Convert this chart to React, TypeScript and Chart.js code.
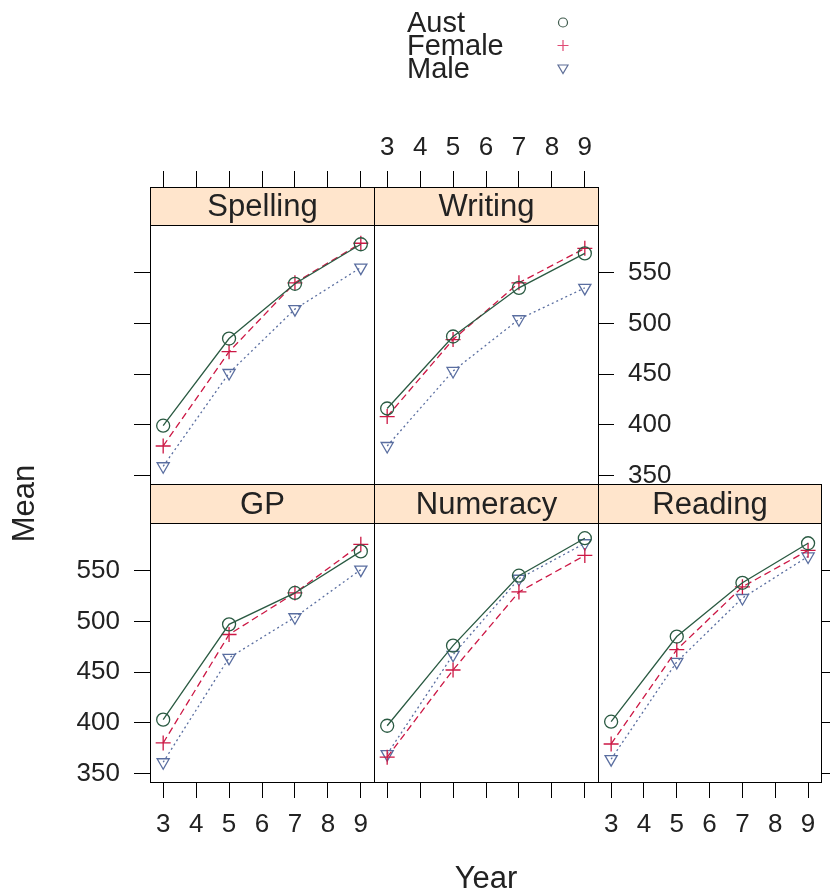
import React, { useEffect, useRef } from 'react';
import { Chart, registerables } from 'chart.js';

Chart.register(...registerables);

// ---------------- data ----------------
const YEARS = [3, 5, 7, 9];
const X_TICKS = [3, 4, 5, 6, 7, 8, 9];
const Y_TICKS = [350, 400, 450, 500, 550];
const GROUPS = ['Aust', 'Female', 'Male'];

const spellingAust = [399, 485, 539, 578];
const spellingFemale = [379, 472, 540, 579];
const spellingMale = [359, 451, 514, 555];

const writingAust = [416, 487, 535, 569];
const writingFemale = [408, 484, 540, 574];
const writingMale = [379, 453, 504, 535];

const gpAust = [403, 497, 528, 569];
const gpFemale = [380, 487, 528, 576];
const gpMale = [361, 464, 504, 551];

const numeracyAust = [397, 476, 545, 582];
const numeracyFemale = [366, 452, 529, 565];
const numeracyMale = [369, 467, 542, 577];

const readingAust = [401, 485, 538, 577];
const readingFemale = [379, 472, 534, 570];
const readingMale = [364, 460, 523, 564];

const X_MIN = 2.6;
const X_MAX = 9.4;
const Y_MIN = 341.5;
const Y_MAX = 597;

// ---------------- layout / style ----------------
const W = 830;
const H = 894;
const FONT = "'Liberation Sans', Arial, Helvetica, sans-serif";
const TEXT = '#222';
const TICK = 16;
const TICK_FONT = 26;
const STRIP_FONT = 31;
const COLS = [150, 374, 598, 822];
const ROWS = [
  { stripTop: 187, top: 225, bottom: 484 },
  { stripTop: 484, top: 523, bottom: 782 },
];

const STYLES = [
  { color: '#2a5a42', legend: '#3e5a4c', pointStyle: 'circle', rotation: 0, dash: [], radius: 6.5, width: 1.3 },
  { color: '#cc1744', legend: '#e04a74', pointStyle: 'cross', rotation: 0, dash: [7, 4], radius: 7.5, width: 1.3 },
  { color: '#5a6ea0', legend: '#5f6f98', pointStyle: 'triangle', rotation: 180, dash: [2, 3], radius: 7, width: 1.3 },
];

const PANELS = [
  { name: 'Spelling', col: 0, row: 0, series: [spellingAust, spellingFemale, spellingMale], xPos: 'top', xLabels: false, yPos: 'left', yLabels: false, decor: false },
  { name: 'Writing', col: 1, row: 0, series: [writingAust, writingFemale, writingMale], xPos: 'top', xLabels: true, yPos: 'right', yLabels: true, decor: false },
  { name: 'GP', col: 0, row: 1, series: [gpAust, gpFemale, gpMale], xPos: 'bottom', xLabels: true, yPos: 'left', yLabels: true, decor: true },
  { name: 'Numeracy', col: 1, row: 1, series: [numeracyAust, numeracyFemale, numeracyMale], xPos: 'bottom', xLabels: false, yPos: null, yLabels: false, decor: false },
  { name: 'Reading', col: 2, row: 1, series: [readingAust, readingFemale, readingMale], xPos: 'bottom', xLabels: true, yPos: 'right', yLabels: false, decor: false },
];

const framePlugin = {
  id: 'latticeFrame',
  afterLayout(chart: any, _args: any, opts: any) {
    const s = chart.scales.x;
    if (s && s.options.position === 'top') {
      s.bottom = chart.chartArea.top - opts.stripH;
    }
  },
  afterDraw(chart: any, _args: any, opts: any) {
    const ctx = chart.ctx;
    const a = chart.chartArea;
    const L = Math.round(a.left) + 0.5;
    const R = Math.round(a.right) + 0.5;
    const T = Math.round(a.top) + 0.5;
    const B = Math.round(a.bottom) + 0.5;
    const ST = Math.round(a.top - opts.stripH) + 0.5;
    ctx.save();
    ctx.fillStyle = '#ffe5cc';
    ctx.fillRect(L, ST, R - L, T - ST);
    ctx.strokeStyle = '#000';
    ctx.lineWidth = 1;
    ctx.setLineDash([]);
    ctx.strokeRect(L, ST, R - L, T - ST);
    ctx.strokeRect(L, T, R - L, B - T);
    ctx.fillStyle = TEXT;
    ctx.font = `${STRIP_FONT}px ${FONT}`;
    ctx.textAlign = 'center';
    ctx.textBaseline = 'middle';
    ctx.fillText(opts.name, (L + R) / 2, (ST + T) / 2 + 1);

    if (opts.decor) {
      // legend
      const rows = [22.5, 45.5, 68.5];
      ctx.font = `29px ${FONT}`;
      ctx.textAlign = 'left';
      GROUPS.forEach((g, i) => {
        ctx.fillStyle = TEXT;
        ctx.fillText(g, 407, rows[i] + 1);
        const sx = 563;
        const sy = rows[i];
        ctx.strokeStyle = STYLES[i].legend;
        ctx.lineWidth = 1.2;
        ctx.beginPath();
        if (i === 0) {
          ctx.arc(sx, sy, 4.5, 0, Math.PI * 2);
        } else if (i === 1) {
          ctx.moveTo(sx - 5.5, sy); ctx.lineTo(sx + 5.5, sy);
          ctx.moveTo(sx, sy - 5.5); ctx.lineTo(sx, sy + 5.5);
        } else {
          ctx.moveTo(sx - 5, sy - 3.5); ctx.lineTo(sx + 5, sy - 3.5); ctx.lineTo(sx, sy + 5); ctx.closePath();
        }
        ctx.stroke();
      });
      // axis titles
      ctx.fillStyle = TEXT;
      ctx.font = `${STRIP_FONT}px ${FONT}`;
      ctx.textAlign = 'center';
      ctx.textBaseline = 'middle';
      ctx.fillText('Year', (COLS[0] + COLS[3]) / 2, 879);
      ctx.save();
      ctx.translate(25, (ROWS[0].top + ROWS[1].bottom) / 2);
      ctx.rotate(-Math.PI / 2);
      ctx.fillText('Mean', 0, 0);
      ctx.restore();
    }
    ctx.restore();
  },
};

function buildConfig(p: any): any {
  const row = ROWS[p.row];
  const stripH = row.top - row.stripTop;
  const xH = p.xPos === 'top' ? stripH + TICK + (p.xLabels ? 50 : 0) : TICK + (p.xLabels ? 50 : 0);
  let yW = 0;
  if (p.yPos === 'left') yW = p.yLabels ? 80 : TICK;
  if (p.yPos === 'right') yW = p.yLabels ? 90 : 8;

  const padding = {
    left: COLS[p.col] - (p.yPos === 'left' ? yW : 0),
    right: W - COLS[p.col + 1] - (p.yPos === 'right' ? yW : 0),
    top: row.top - (p.xPos === 'top' ? xH : 0),
    bottom: H - row.bottom - (p.xPos === 'bottom' ? xH : 0),
  };

  const grid = { drawOnChartArea: false, drawTicks: true, tickLength: TICK, color: '#000', lineWidth: 1 };
  const zeroPad = (s: any) => { s.paddingLeft = 0; s.paddingRight = 0; s.paddingTop = 0; s.paddingBottom = 0; };

  const datasets = GROUPS.map((g, i) => {
    const st = STYLES[i];
    return {
      label: g,
      data: YEARS.map((yr, k) => ({ x: yr, y: p.series[i][k] })),
      borderColor: st.color,
      backgroundColor: 'rgba(0,0,0,0)',
      borderWidth: st.width,
      borderDash: st.dash,
      pointStyle: st.pointStyle,
      pointRotation: st.rotation,
      pointRadius: st.radius,
      pointBorderWidth: 1.3,
      pointBorderColor: st.color,
      pointBackgroundColor: 'rgba(0,0,0,0)',
      tension: 0,
      fill: false,
      clip: false,
    };
  });

  return {
    type: 'line',
    data: { datasets },
    plugins: [framePlugin],
    options: {
      responsive: false,
      animation: false,
      devicePixelRatio: 1,
      events: [],
      layout: { padding },
      plugins: {
        legend: { display: false },
        tooltip: { enabled: false },
        title: { display: false },
        latticeFrame: { name: p.name, stripH, decor: p.decor },
      },
      scales: {
        x: {
          type: 'linear',
          position: p.xPos,
          min: X_MIN,
          max: X_MAX,
          bounds: 'data',
          afterBuildTicks: (s: any) => { s.ticks = X_TICKS.map((v) => ({ value: v })); },
          afterFit: (s: any) => { s.height = xH; zeroPad(s); },
          grid,
          border: { display: false },
          ticks: {
            display: p.xLabels,
            font: { family: FONT, size: TICK_FONT },
            color: TEXT,
            padding: p.xPos === 'top' ? 8 : 11,
            maxRotation: 0,
            minRotation: 0,
            autoSkip: false,
            callback: (v: any) => String(v),
          },
        },
        y: {
          type: 'linear',
          position: p.yPos || 'left',
          display: !!p.yPos,
          min: Y_MIN,
          max: Y_MAX,
          bounds: 'data',
          afterBuildTicks: (s: any) => { s.ticks = Y_TICKS.map((v) => ({ value: v })); },
          afterFit: (s: any) => { s.width = yW; zeroPad(s); },
          grid,
          border: { display: false },
          ticks: {
            display: p.yLabels,
            font: { family: FONT, size: TICK_FONT },
            color: TEXT,
            padding: 14,
            autoSkip: false,
            callback: (v: any) => String(v),
          },
        },
      },
    },
  };
}

export default function App() {
  const refs = useRef<(HTMLCanvasElement | null)[]>([]);

  useEffect(() => {
    const charts = PANELS.map((p, i) => new Chart(refs.current[i] as HTMLCanvasElement, buildConfig(p)));
    return () => charts.forEach((c) => c.destroy());
  }, []);

  return (
    <div style={{ position: 'absolute', left: 0, top: 0, width: W, height: H, background: '#fff', overflow: 'hidden' }}>
      {PANELS.map((p, i) => (
        <canvas
          key={p.name}
          ref={(el) => { refs.current[i] = el; }}
          width={W}
          height={H}
          style={{ position: 'absolute', left: 0, top: 0, width: W, height: H }}
        />
      ))}
    </div>
  );
}
